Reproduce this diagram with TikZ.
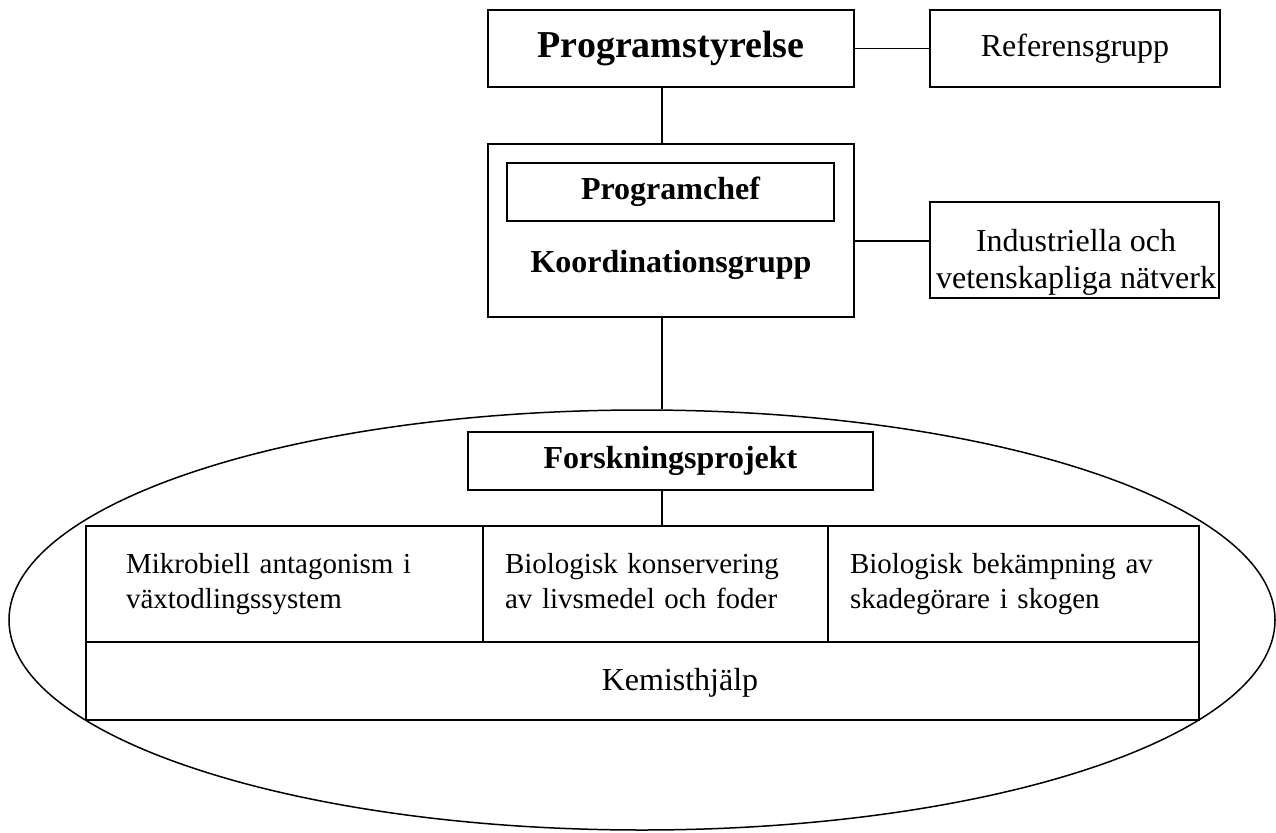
\documentclass[tikz,border=0pt]{standalone}
\usepackage{fontspec}
\setmainfont{Liberation Serif}
\usetikzlibrary{shapes.geometric}

\begin{document}
\fontsize{32}{37}\selectfont
\begin{tikzpicture}[x=1pt,y=-1pt,line width=1.5pt,
        box/.style={draw, inner sep=0pt, align=center},
        head/.style={font=\fontsize{32}{37}\selectfont\bfseries},
        cell/.style={draw, inner ysep=0pt, minimum height=116pt, align=left,
            font=\fontsize{29}{35}\selectfont,
            execute at begin node=\strut, execute at end node=\strut}]
        \useasboundingbox (0,0) rectangle (1276,832);
        % top of the chart
        \node[box, minimum width=366pt, minimum height=77pt, font=\fontsize{38}{45}\selectfont\bfseries] (styr) at (671,48.5) {Programstyrelse};
        \node[box, minimum width=290pt, minimum height=77pt] (ref) at (1075,48.5) {Referensgrupp};
        \node[box, minimum width=366pt, minimum height=173pt] (koord) at (671,230.5) {};
        \node[box, head, minimum width=327pt, minimum height=58pt] (chef) at (670.5,192) {Programchef};
        \node[head] (koordtxt) at (671,265) {Koordinationsgrupp};
        \node[box, minimum width=289pt, minimum height=96pt] (ind) at (1074.5,250) {};
        \node[align=center, inner sep=0pt] (indtxt) at (1076,262) {Industriella och\\vetenskapliga nätverk};
        % the projects
        \node[draw, ellipse, inner sep=0pt, minimum width=1266pt, minimum height=420pt] (ring) at (642,620) {};
        \node[box, head, minimum width=405pt, minimum height=58pt] (forsk) at (670.5,461) {Forskningsprojekt};
        \foreach \name/\cx/\w/\pad/\txt in {mik/284.5/397/40/{Mikrobiell antagonism i\\växtodlingssystem},
            bio/655.5/345/22/{Biologisk konservering\\av livsmedel och foder},
            bek/1013.5/371/22/{Biologisk bekämpning av\\skadegörare i skogen}}
        {
            \pgfmathsetmacro\tw{\w-2*\pad}
            \node[cell, minimum width=\w pt, inner xsep=\pad pt, text width=\tw pt] (\name) at (\cx,584) {\txt};
        }
        \node[box, minimum width=1113pt, minimum height=78pt] (kem) at (642.5,681) {};
        \node (kemtxt) at (680,683) {Kemisthjälp};
        % connectors
        \coordinate (spine) at (662,0);
        \coordinate (indlink) at (0,241);
        \draw (styr.east) -- (ref.west);
        \draw (styr.south -| spine) -- (koord.north -| spine);
        \draw (koord.east |- indlink) -- (ind.west |- indlink);
        \draw (koord.south -| spine) -- (ring.north -| spine);
        \draw (forsk.south -| spine) -- (bio.north -| spine);
\end{tikzpicture}
\end{document}
